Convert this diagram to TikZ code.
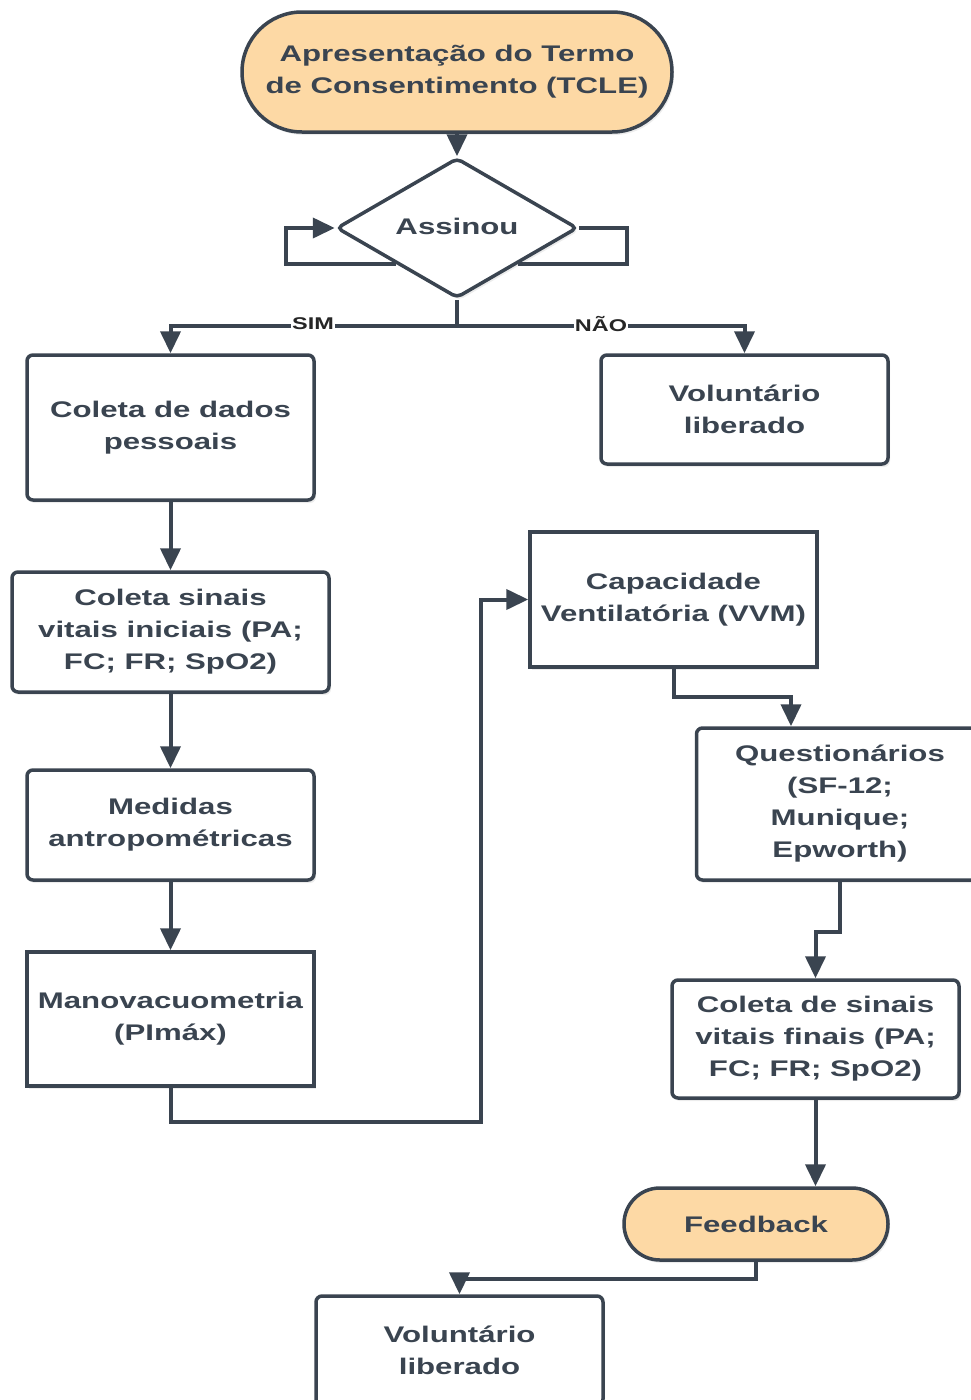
\documentclass[tikz,border=0pt]{standalone}
\usepackage{fontspec}
\setmainfont{Liberation Sans}[FakeStretch=1.38]
\usetikzlibrary{arrows.meta,shapes.geometric,shadows,calc}
\definecolor{ink}{HTML}{3A4450}
\definecolor{peach}{HTML}{FDD9A5}
\newcommand\mytxt{\fontsize{22.6pt}{32pt}\selectfont\bfseries}
\newcommand\mylab{\fontsize{17pt}{20pt}\selectfont\bfseries}
\tikzset{
  shad/.style={drop shadow={opacity=0.15, shadow xshift=2pt, shadow yshift=-3pt}},
  box/.style={draw=ink, line width=3.5pt, fill=white, rounded corners=6pt,
    minimum width=287pt, inner sep=0pt, align=center, text=ink, font=\mytxt, shad},
  sqbox/.style={box, rounded corners=0pt},
  term/.style={draw=ink, line width=3.5pt, fill=peach, inner sep=0pt,
    align=center, text=ink, font=\mytxt, shad},
  dia/.style={diamond, draw=ink, line width=3.5pt, fill=white, minimum width=241pt,
    minimum height=140pt, inner sep=0pt, aspect=1.7, rounded corners=5pt,
    text=ink, font=\mytxt, shad},
  conn/.style={draw=ink, line width=4pt},
  arr/.style={conn, -{Triangle[length=22pt,width=20pt]}},
  lab/.style={fill=white, inner sep=1pt, text=black!85, font=\mylab},
}
\begin{document}
\begin{tikzpicture}[x=1pt,y=-1pt]
\useasboundingbox (0,0) rectangle (970,1400);
% nodes
\node[term, minimum width=430pt, minimum height=120pt, rounded corners=59.9pt] (tcle) at (457,72) {Apresentação do Termo\\de Consentimento (TCLE)};
\node[dia] (d) at (457,228) {\raisebox{3pt}{Assinou}};
\node[box, minimum height=145pt] (c1) at (170.5,427.5) {Coleta de dados\\pessoais};
\node[box, minimum height=109pt] (v1) at (744.5,409.5) {Voluntário\\liberado};
\node[box, minimum width=317pt, minimum height=120pt] (s1) at (170.5,632) {Coleta sinais\\vitais iniciais (PA;\\FC; FR; SpO2)};
\node[box, minimum height=110pt] (m1) at (170.5,825) {Medidas\\antropométricas};
\node[sqbox, minimum height=134pt] (mv) at (170.5,1019) {Manovacuometria\\(PImáx)};
\node[sqbox, minimum height=135pt] (cap) at (673.5,599.5) {Capacidade\\Ventilatória (VVM)};
\node[box, minimum height=152pt] (q) at (840,804) {Questionários\\(SF-12;\\Munique;\\Epworth)};
\node[box, minimum height=118pt] (sf) at (815.5,1039) {Coleta de sinais\\vitais finais (PA;\\FC; FR; SpO2)};
\node[term, minimum width=264pt, minimum height=72pt, rounded corners=35.9pt] (fb) at (756,1224) {Feedback};
\node[box, minimum height=109pt] (v2) at (459.5,1350.5) {Voluntário\\liberado};
% connectors
\draw[arr] (tcle.south) -- (d.north);
\draw[arr] ($(d.west)!0.5!(d.south)$) -| ($(d.west)+(-49,0)$) -- (d.west);
\draw[conn] (d.east) -- ++(48,0) |- ($(d.east)!0.5!(d.south)$);
\coordinate (br) at (457,326);
\draw[conn] (d.south) -- (br);
\draw[arr] (br) -| (c1.north);
\draw[arr] (br) -| (v1.north);
\node[lab] (sim) at (313,324) {SIM};
\node[lab] (nao) at (601,324) {NÃO};
\draw[arr] (c1.south) -- (s1.north);
\draw[arr] (s1.south) -- (m1.north);
\draw[arr] (m1.south) -- (mv.north);
\coordinate (k1) at (481,1122);
\draw[arr] (mv.south) |- (k1) |- (cap.west);
\coordinate (k2) at (791,697);
\draw[arr] (cap.south) |- (k2) -- (k2 |- q.north);
\draw[arr] (q.south) -- ++(0,50) -| (sf.north);
\draw[arr] (sf.south) -- (sf.south |- fb.north);
\draw[arr] (fb.south) -- ++(0,17) -| (v2.north);
\end{tikzpicture}
\end{document}
